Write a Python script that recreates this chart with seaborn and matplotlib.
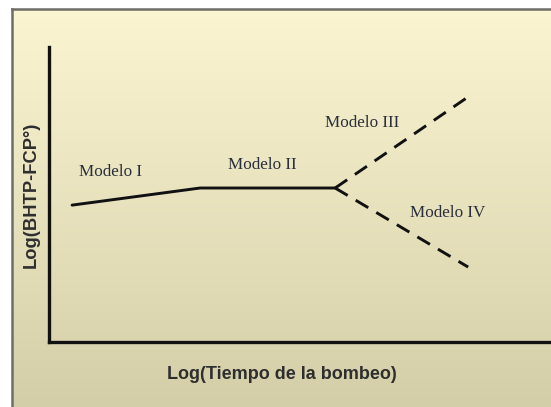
import numpy as np
import pandas as pd
import matplotlib
matplotlib.use("Agg")
import matplotlib.pyplot as plt
from matplotlib.colors import LinearSegmentedColormap
import seaborn as sns

# --- DATOS (unidades arbitrarias, escala log) ---
tiempo_solido = [4.6, 30.1, 57.0]
bhtp_solido = [46.4, 52.2, 52.2]
tiempo_m3 = [57.0, 83.5]
bhtp_m3 = [52.2, 83.1]
tiempo_m4 = [57.0, 83.5]
bhtp_m4 = [52.2, 25.4]

etiquetas = ["Modelo I", "Modelo II", "Modelo III", "Modelo IV"]
etiq_x = [12.2, 42.4, 62.4, 79.5]
etiq_y = [57.6, 60.0, 74.2, 43.7]

sns.set_theme(style="white")
W, H = 551, 407
fig = plt.figure(figsize=(W / 100, H / 100), dpi=100)
fig.patch.set_facecolor("white")

# fondo degradado del panel
bg = fig.add_axes([12 / W, 0, 1 - 12 / W, (H - 9) / H], zorder=0)
cmap = LinearSegmentedColormap.from_list("fondo", ["#FBF5D2", "#D4CEA8"])
grad = np.linspace(0, 1, 256).reshape(-1, 1)
bg.imshow(grad, cmap=cmap, aspect="auto", extent=[0, 1, 0, 1], origin="upper")
bg.set_xticks([])
bg.set_yticks([])
for lado in ["right", "bottom"]:
    bg.spines[lado].set_visible(False)
for lado in ["top", "left"]:
    bg.spines[lado].set_color("#6e6e68")
    bg.spines[lado].set_linewidth(1.8)

ax = fig.add_axes([49 / W, (H - 342) / H, 1 - 49 / W, (342 - 47) / H], zorder=1)
ax.set_facecolor("none")

df_sol = pd.DataFrame({"t": tiempo_solido, "p": bhtp_solido})
sns.lineplot(data=df_sol, x="t", y="p", ax=ax, color="#111111", linewidth=2.1, sort=False)
for tx, py in [(tiempo_m3, bhtp_m3), (tiempo_m4, bhtp_m4)]:
    d = pd.DataFrame({"t": tx, "p": py})
    sns.lineplot(data=d, x="t", y="p", ax=ax, color="#111111", linewidth=2.1,
                 sort=False, dashes=False, linestyle=(0, (5, 3.2)))

for txt, x, y in zip(etiquetas, etiq_x, etiq_y):
    ax.text(x, y, txt, ha="center", va="center", fontsize=12.3,
            family="Liberation Serif", color="#2a2e3c")

ax.set_xlim(0, 100)
ax.set_ylim(0, 100)
ax.set_xticks([])
ax.set_yticks([])
for lado in ["top", "right"]:
    ax.spines[lado].set_visible(False)
for lado in ["left", "bottom"]:
    ax.spines[lado].set_color("#111111")
    ax.spines[lado].set_linewidth(2.4)

ax.set_xlabel("Log(Tiempo de la bombeo)", fontsize=13, fontweight="bold",
              family="Liberation Sans", color="#2e2e2e")
ax.xaxis.set_label_coords((282 - 49) / 502, -(366 - 342) / 295)
ax.set_ylabel("Log(BHTP-FCP°)", fontsize=13.2, fontweight="bold",
              family="Liberation Sans", color="#2e2e2e", labelpad=7)

fig.savefig("out.png", dpi=100)
